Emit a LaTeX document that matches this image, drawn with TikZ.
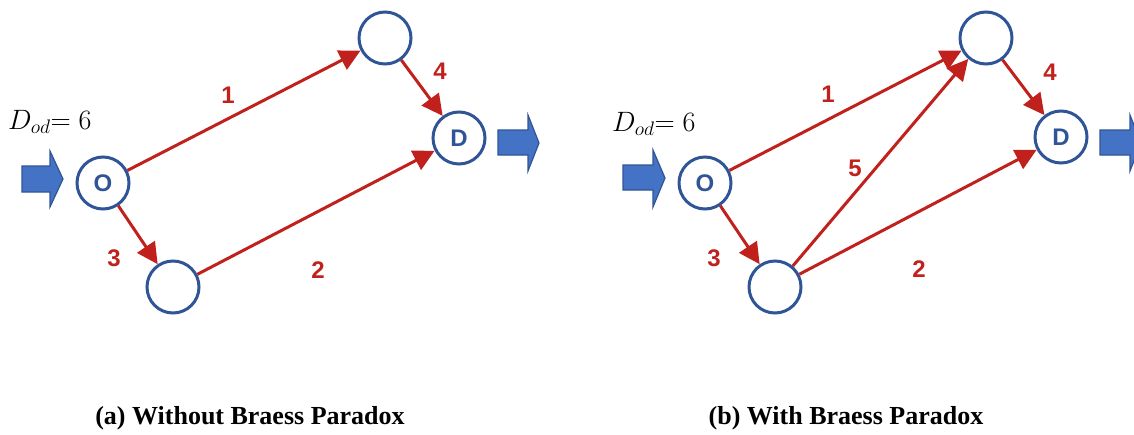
\documentclass[tikz,border=0pt]{standalone}
\usepackage{fix-cm}
\usepackage{fontspec}
\setmainfont{Liberation Serif}
\newfontfamily\sansb{Liberation Sans}
\usetikzlibrary{arrows.meta}
\definecolor{ered}{RGB}{192,33,28}
\definecolor{nblue}{RGB}{47,85,151}
\definecolor{afill}{RGB}{68,114,196}
\begin{document}
\begin{tikzpicture}[x=1pt,y=-1pt,
  vert/.style={circle,draw=nblue,line width=3pt,minimum size=52pt,inner sep=0pt,
    font=\sansb\bfseries\fontsize{24}{24}\selectfont,text=nblue,fill=white},
  edge/.style={draw=ered,line width=3pt,-{Triangle[length=21pt,width=21pt]}},
  lab/.style={font=\sansb\bfseries\fontsize{24}{24}\selectfont,text=ered,inner sep=0pt},
  blk/.style={fill=afill,draw=nblue,line width=1.2pt,line join=miter},
  dem/.style={font=\fontsize{28}{30}\selectfont,anchor=base west,inner sep=0pt},
  captxt/.style={font=\bfseries\fontsize{26}{26}\selectfont,inner sep=0pt}]
\clip (0,0) rectangle (1134,434);
\useasboundingbox (0,0) rectangle (1134,434);

% ---------- left panel ----------
\node[vert] (aO) at (103,183) {O};
\node[vert] (aT) at (385,38) {};
\node[vert] (aD) at (459,138) {D};
\node[vert] (aB) at (173,287) {};
\draw[edge] (aO) -- (aT);
\draw[edge] (aT) -- (aD);
\draw[edge] (aO) -- (aB);
\draw[edge] (aB) -- (aD);
\node[lab] (al1) at (228,95) {1};
\node[lab] (al4) at (440,71) {4};
\node[lab] (al3) at (114,258) {3};
\node[lab] (al2) at (318,270) {2};
\node[dem] (adem) at (8,129) {$D_{od}{=}\;6$};
\draw[blk] (22,166) -- (50,166) -- (50,151) -- (63,179) -- (50,207) -- (50,192) -- (22,192) -- cycle;
\draw[blk] (498,130) -- (528,130) -- (528,115) -- (539,143) -- (528,171) -- (528,155) -- (498,155) -- cycle;
\node[captxt] (acap) at (250,418) {(a) Without Braess Paradox};

% ---------- right panel ----------
\node[vert] (bO) at (705,183) {O};
\node[vert] (bT) at (986,38) {};
\node[vert] (bD) at (1061,137) {D};
\node[vert] (bB) at (775,287) {};
\draw[edge] (bO) -- (bT);
\draw[edge] (bT) -- (bD);
\draw[edge] (bO) -- (bB);
\draw[edge] (bB) -- (bD);
\draw[edge] (bB) -- (bT);
\node[lab] (bl1) at (828,94) {1};
\node[lab] (bl5) at (855,168) {5};
\node[lab] (bl4) at (1050,72) {4};
\node[lab] (bl3) at (714,258) {3};
\node[lab] (bl2) at (919,269) {2};
\node[dem] (bdem) at (612,131) {$D_{od}{=}\;6$};
\draw[blk] (623,165) -- (653,165) -- (653,150) -- (665,178) -- (653,207) -- (653,190) -- (623,190) -- cycle;
\draw[blk] (1100,130) -- (1130,130) -- (1130,115) -- (1141,143) -- (1130,171) -- (1130,155) -- (1100,155) -- cycle;
\node[captxt] (bcap) at (846,418) {(b) With Braess Paradox};
\end{tikzpicture}
\end{document}
